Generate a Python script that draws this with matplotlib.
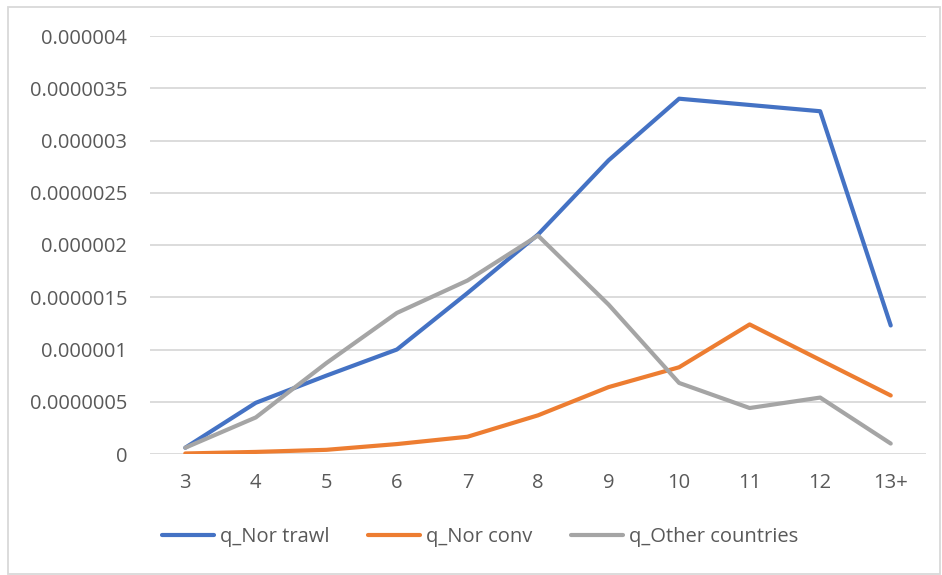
import matplotlib
matplotlib.use("Agg")
import matplotlib.pyplot as plt
from matplotlib.patches import Rectangle

categories = ["3", "4", "5", "6", "7", "8", "9", "10", "11", "12", "13+"]
nor_trawl = [0.06e-6, 0.49e-6, 0.75e-6, 1.00e-6, 1.54e-6, 2.10e-6, 2.81e-6, 3.40e-6, 3.34e-6, 3.28e-6, 1.23e-6]
nor_conv = [0.005e-6, 0.02e-6, 0.04e-6, 0.095e-6, 0.165e-6, 0.37e-6, 0.64e-6, 0.83e-6, 1.24e-6, 0.90e-6, 0.56e-6]
other = [0.06e-6, 0.35e-6, 0.87e-6, 1.35e-6, 1.66e-6, 2.09e-6, 1.43e-6, 0.68e-6, 0.44e-6, 0.54e-6, 0.10e-6]
series_names = ["q_Nor trawl", "q_Nor conv", "q_Other countries"]
yticks = [0, 0.5e-6, 1e-6, 1.5e-6, 2e-6, 2.5e-6, 3e-6, 3.5e-6, 4e-6]
ytick_labels = ["0", "0.0000005", "0.000001", "0.0000015", "0.000002",
                "0.0000025", "0.000003", "0.0000035", "0.000004"]

plt.rcParams['font.family'] = ['Open Sans', 'DejaVu Sans']

W, H = 942, 575
fig = plt.figure(figsize=(W/100, H/100), dpi=100)
ax = fig.add_axes([150/W, (H-454)/H, (926-150)/W, (454-36)/H])

colors = ["#4472C4", "#ED7D31", "#A5A5A5"]
x = list(range(len(categories)))
for vals, name, c in zip([nor_trawl, nor_conv, other], series_names, colors):
    ax.plot(x, vals, color=c, lw=3.0, label=name, solid_joinstyle='round',
            solid_capstyle='round')

ax.set_xlim(-0.5, len(categories) - 0.5)
ax.set_ylim(0, 4e-6)
ax.set_yticks(yticks)
ax.set_yticklabels(ytick_labels)
ax.set_xticks(x)
ax.set_xticklabels(categories)
ax.tick_params(axis='both', length=0, labelsize=14.5, colors="#595959")
ax.tick_params(axis='y', pad=16.5)
ax.tick_params(axis='x', pad=14)
ax.grid(axis='y', color="#D9D9D9", lw=1.3)
ax.set_axisbelow(True)
for s in ax.spines.values():
    s.set_visible(False)

leg = fig.legend(loc='center', bbox_to_anchor=(480/W, (H-537)/H), ncol=3,
                 frameon=False, fontsize=14.5, handlelength=2.6,
                 handletextpad=0.3, columnspacing=1.9)
for t in leg.get_texts():
    t.set_color("#595959")

fig.patches.append(Rectangle((8/W, 1/H), (940-8)/W, (568-1)/H, transform=fig.transFigure,
                             fill=False, edgecolor="#D9D9D9", lw=1.3))

fig.savefig("out.png", dpi=100, facecolor="white")
